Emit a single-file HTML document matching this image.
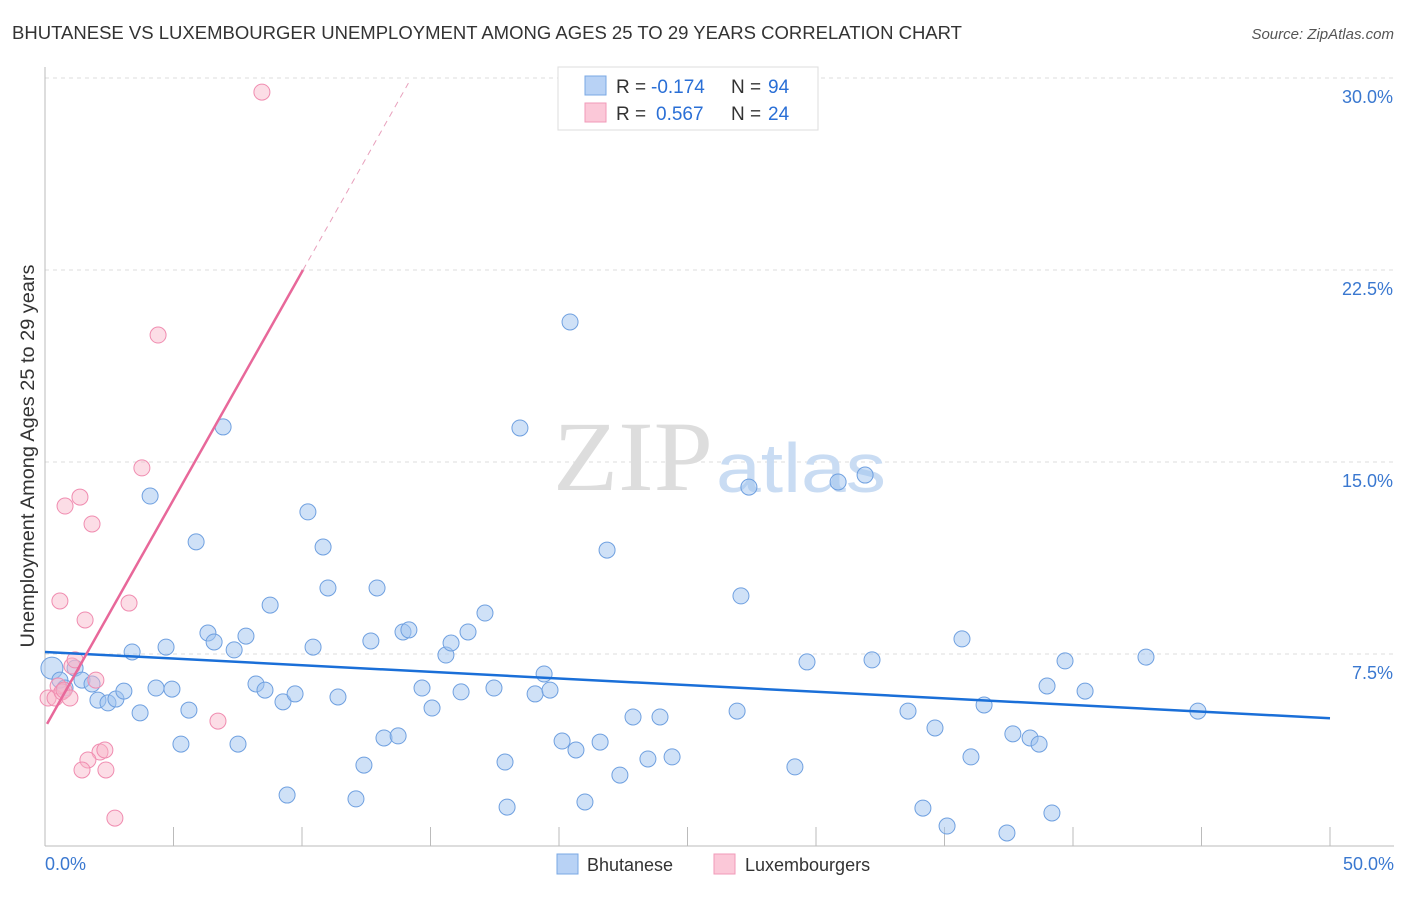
<!DOCTYPE html>
<html><head><meta charset="utf-8">
<style>
body{margin:0;background:#fff;font-family:"Liberation Sans",sans-serif;}
svg text{font-family:"Liberation Sans",sans-serif;}
</style></head>
<body>
<svg id="chart" width="1406" height="892" xmlns="http://www.w3.org/2000/svg">
<text x="12" y="39" font-size="18" textLength="950" lengthAdjust="spacingAndGlyphs" fill="#333">BHUTANESE VS LUXEMBOURGER UNEMPLOYMENT AMONG AGES 25 TO 29 YEARS CORRELATION CHART</text>
<text x="1394" y="39" font-size="15" fill="#555" text-anchor="end" font-style="italic">Source: ZipAtlas.com</text>
<g id="grid"></g>
<g>
<text x="553" y="490" font-size="100" textLength="160" lengthAdjust="spacingAndGlyphs" fill="#ddd" style="font-family:'Liberation Serif',serif">ZIP</text>
<text x="716" y="492" font-size="70" textLength="170" lengthAdjust="spacingAndGlyphs" fill="#c9dcf3">atlas</text>
</g>
<g id="pts"></g>
<g id="trends"></g>
<text transform="translate(34,456) rotate(-90)" font-size="19" textLength="383" lengthAdjust="spacingAndGlyphs" fill="#333" text-anchor="middle">Unemployment Among Ages 25 to 29 years</text>
<g>
<rect x="558" y="67" width="260" height="63" fill="#fff" stroke="#ddd"/>
<rect x="585" y="76" width="21" height="19" fill="#b8d2f5" stroke="#7aa8e4"/>
<text x="616" y="93" font-size="19" fill="#333">R =</text>
<text x="651" y="93" font-size="19" fill="#2a6fd6">-0.174</text>
<text x="731" y="93" font-size="19" fill="#333">N =</text>
<text x="768" y="93" font-size="19" fill="#2a6fd6">94</text>
<rect x="585" y="103" width="21" height="19" fill="#fbc8d8" stroke="#f09ab8"/>
<text x="616" y="120" font-size="19" fill="#333">R =</text>
<text x="656" y="120" font-size="19" fill="#2a6fd6">0.567</text>
<text x="731" y="120" font-size="19" fill="#333">N =</text>
<text x="768" y="120" font-size="19" fill="#2a6fd6">24</text>
</g>
<g>
<rect x="557" y="854" width="21" height="20" fill="#b8d2f5" stroke="#7aa8e4"/>
<text x="587" y="871" font-size="18" fill="#333">Bhutanese</text>
<rect x="714" y="854" width="21" height="20" fill="#fbc8d8" stroke="#f09ab8"/>
<text x="745" y="871" font-size="18" fill="#333">Luxembourgers</text>
</g>
</svg>
<script>
const xTicks=[0,5,10,15,20,25,30,35,40,45,50];
const yTicks=[7.5,15,22.5,30];
const yTickLabels=["7.5%","15.0%","22.5%","30.0%"];
const blueX=[0.27,0.58,0.78,1.17,1.44,1.83,2.06,2.45,2.76,3.07,3.39,3.70,4.09,4.32,4.71,4.94,5.29,5.60,5.88,6.34,6.58,6.93,7.36,7.51,7.82,8.21,8.56,8.76,9.26,9.42,9.73,10.23,10.43,10.82,11.01,11.40,12.10,12.41,12.68,12.92,13.19,13.74,13.93,14.16,14.67,15.06,15.60,15.80,16.19,16.46,17.12,17.47,17.90,17.98,18.48,19.07,19.42,19.65,20.12,20.43,20.66,21.01,21.60,21.87,22.37,22.88,23.46,23.93,24.40,26.93,27.08,27.39,29.18,29.65,30.86,31.91,32.18,33.58,34.16,34.63,35.10,35.68,36.03,36.54,37.43,37.66,38.33,38.68,38.99,39.18,39.69,40.47,42.84,44.86];
const blueY=[6.95,6.48,6.17,6.95,6.48,6.33,5.70,5.59,5.74,6.05,7.58,5.20,13.67,6.17,7.77,6.13,3.98,5.31,11.88,8.32,7.97,16.37,7.66,3.98,8.20,6.33,6.09,9.41,5.63,1.99,5.94,13.05,7.77,11.68,10.08,5.82,1.84,3.16,8.01,10.08,4.22,4.30,8.36,8.44,6.17,5.39,7.46,7.93,6.02,8.36,9.10,6.17,3.28,1.52,16.33,5.94,6.72,6.09,4.10,20.47,3.75,1.72,4.06,11.56,2.77,5.04,3.40,5.04,3.48,5.27,9.77,14.02,3.09,7.19,14.22,14.49,7.27,5.27,1.48,4.61,0.78,8.09,3.48,5.51,0.51,4.38,4.22,3.98,6.25,1.29,7.23,6.05,7.38,5.27];
const pinkX=[0.12,0.39,0.51,0.66,0.74,0.97,1.05,1.17,0.58,0.78,1.36,1.56,1.83,1.98,2.14,2.33,1.67,1.44,2.37,2.72,3.27,3.77,4.40,6.73,8.44];
const pinkY=[5.78,5.78,6.25,6.02,6.09,5.78,7.03,7.27,9.57,13.28,13.63,8.83,12.58,6.48,3.67,3.75,3.36,2.97,2.97,1.09,9.49,14.77,19.96,4.88,29.45];
const blueTrend=[7.58,-0.0518];
const pinkTrend=[4.63,1.78];
const NS="http://www.w3.org/2000/svg";
const X=v=>45+v/50*1285, Y=v=>846-v/7.5*192;
function mk(t,a,p){const e=document.createElementNS(NS,t);for(const k in a)e.setAttribute(k,a[k]);p.appendChild(e);return e;}
const grid=document.getElementById('grid');
yTicks.forEach((t,i)=>{
 const l=mk('line',{x1:45,x2:1394,y1:Y(t),y2:Y(t),stroke:'#ddd','stroke-dasharray':'4,4'},grid);
 
 
 const tx=mk('text',{x:1393,y:Y(t)+25,'font-size':18,fill:'#3a78d0','text-anchor':'end'},grid);
 tx.textContent=yTickLabels[i];
 
 
});
const ax=mk('line',{x1:45,x2:45,y1:67,y2:846,stroke:'#bbb'},grid);


const bx=mk('line',{x1:45,x2:1394,y1:846,y2:846,stroke:'#bbb'},grid);


xTicks.forEach(t=>{
 const l=mk('line',{x1:X(t),x2:X(t),y1:827,y2:846,stroke:'#bbb'},grid);
 
 
});
[[0,'0.0%','start',45],[50,'50.0%','end',1394]].forEach(a=>{
 const tx=mk('text',{x:a[3],y:870,'font-size':18,fill:'#3a78d0','text-anchor':a[2]},grid);
 tx.textContent=a[1];
 
 
});
const pts=document.getElementById('pts');
blueX.forEach((x,i)=>{
 const c=mk('circle',{cx:X(x),cy:Y(blueY[i]),r:i==0?11:8,fill:'rgba(160,196,240,0.5)',stroke:'#6fa0e0','stroke-width':1},pts);
 
 
});
pinkX.forEach((x,i)=>{
 const c=mk('circle',{cx:X(x),cy:Y(pinkY[i]),r:8,fill:'rgba(248,180,200,0.45)',stroke:'#f08cb0','stroke-width':1},pts);
 
 
});
const tr=document.getElementById('trends');
const bl=mk('line',{x1:X(0),y1:Y(blueTrend[0]),x2:X(50),y2:Y(blueTrend[0]+blueTrend[1]*50),stroke:'#1a6fd8','stroke-width':2.5},tr);


const xs=(22.5-pinkTrend[0])/pinkTrend[1], xe=(29.8-pinkTrend[0])/pinkTrend[1], x0=0.08;
const pl=mk('line',{x1:X(x0),y1:Y(pinkTrend[0]+pinkTrend[1]*x0),x2:X(xs),y2:Y(22.5),stroke:'#e8689a','stroke-width':2.5},tr);


const pd=mk('line',{x1:X(xs),y1:Y(22.5),x2:X(xe),y2:Y(29.8),stroke:'#e8a0bc','stroke-width':1,'stroke-dasharray':'6,5'},tr);


</script>
</body></html>
